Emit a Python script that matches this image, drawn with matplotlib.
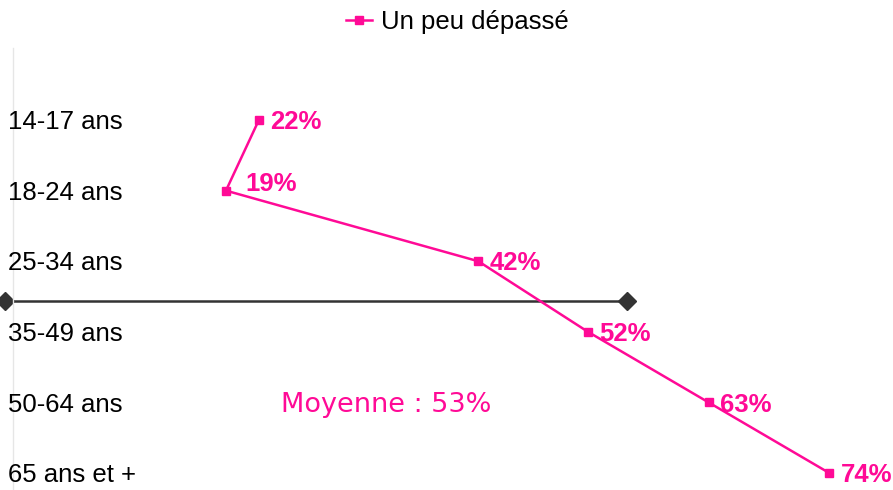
import matplotlib
matplotlib.use("Agg")
import matplotlib.pyplot as plt
from matplotlib.lines import Line2D

categories = ["14-17 ans", "18-24 ans", "25-34 ans", "35-49 ans", "50-64 ans", "65 ans et +"]
un_peu_depasse = [22, 19, 42, 52, 63, 74]
moyenne = 53
moyenne_line_x = [-1.1, 55.6]
moyenne_line_y = 2.56

PINK = "#FF0A96"
DARK = "#333333"

plt.rcParams["font.family"] = ["Liberation Sans", "DejaVu Sans"]

fig = plt.figure(figsize=(8.93, 4.9), dpi=100)
ax = fig.add_axes([13 / 893, 0.0, 880 / 893, 442 / 490])

y_pos = list(range(len(categories)))
ax.plot(un_peu_depasse, y_pos, color=PINK, lw=1.8, marker="s", markersize=6,
        label="Un peu dépassé", zorder=3)

# ligne de séparation (moyenne)
ax.plot(moyenne_line_x, [moyenne_line_y, moyenne_line_y], color=DARK, lw=1.8,
        marker="D", markersize=9, clip_on=False, zorder=2)

# étiquettes de valeurs
offsets = {1: (14, 5)}
for i, v in enumerate(un_peu_depasse):
    dx, dy = offsets.get(i, (8, -1.5))
    ax.annotate(f"{v}%", (v, i), xytext=(dx, dy), textcoords="offset points",
                ha="left", va="center", color=PINK, fontsize=18.5, fontweight="bold")

# libellés des catégories
for i, cat in enumerate(categories):
    ax.text(-0.0057, i + 0.03, cat, transform=ax.get_yaxis_transform(),
            ha="left", va="center", fontsize=18.5, color="black")

ax.text(33.6, 4.04, f"Moyenne : {moyenne}%", ha="center", va="center",
        color=PINK, fontsize=19.5, family="DejaVu Sans")

ax.set_xlim(-0.41, 79.8)
ax.set_ylim(5.24, -1.02)
ax.set_xticks([])
ax.set_yticks([])
for side in ["top", "right", "bottom"]:
    ax.spines[side].set_visible(False)
ax.spines["left"].set_color("#e6e6e6")
ax.spines["left"].set_linewidth(1)

handle = Line2D([], [], color=PINK, lw=1.8, marker="s", markersize=6)
fig.legend([handle], ["Un peu dépassé"], loc="center", bbox_to_anchor=(0.512, 0.955),
           frameon=False, fontsize=18.5, handlelength=1.0, handletextpad=0.35)

fig.savefig("out.png", dpi=100)
